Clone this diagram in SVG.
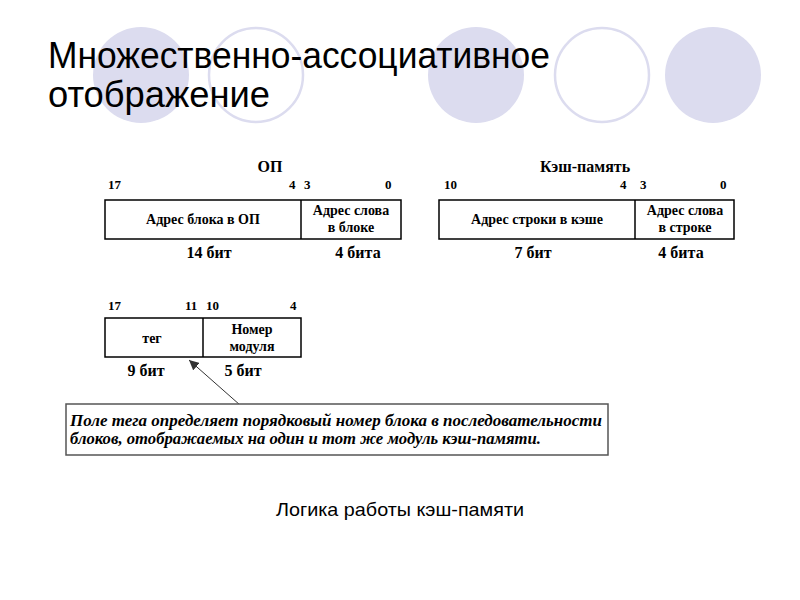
<svg xmlns="http://www.w3.org/2000/svg" width="800" height="600" viewBox="0 0 800 600">
<style>
.cf{fill:#dcdcef;stroke:none}
.co{fill:#fff;stroke:#dcdcef;stroke-width:2.5}
.t{font-family:"Liberation Serif",serif;font-weight:bold;fill:#000}
.box{fill:#fff;stroke:#000;stroke-width:1.5}
</style>
<defs>
<marker id="ah" viewBox="0 0 10 10" refX="10" refY="5" markerWidth="10" markerHeight="10" orient="auto" markerUnits="userSpaceOnUse">
<path d="M0,0 L10,5 L0,10 Z" fill="#333"/>
</marker>
</defs>
<rect width="800" height="600" fill="#fff"/>
<g id="decor">
<ellipse class="cf" cx="141" cy="75" rx="48" ry="48"/>
<ellipse class="co" cx="256" cy="75" rx="47" ry="47"/>
<ellipse class="cf" cx="476" cy="75" rx="48" ry="48"/>
<ellipse class="co" cx="602" cy="75" rx="47" ry="47"/>
<ellipse class="cf" cx="713" cy="75" rx="48" ry="48"/>
</g>
<g id="title" font-family="Liberation Sans, Arial, sans-serif" font-size="36" fill="#000">
<text x="48" y="68" textLength="502" lengthAdjust="spacingAndGlyphs">Множественно-ассоциативное</text>
<text x="48" y="107" textLength="222" lengthAdjust="spacingAndGlyphs">отображение</text>
</g>
<g id="op">
<text class="t" x="270" y="172" font-size="16" text-anchor="middle">ОП</text>
<text class="t" x="108" y="189" font-size="13">17</text>
<text class="t" x="289" y="189" font-size="13">4</text>
<text class="t" x="304" y="189" font-size="13">3</text>
<text class="t" x="385" y="189" font-size="13">0</text>
<rect class="box" x="105" y="200" width="296" height="39"/>
<line x1="301" y1="200" x2="301" y2="239" stroke="#000" stroke-width="1.5"/>
<text class="t" x="203" y="224" font-size="14" text-anchor="middle">Адрес блока в ОП</text>
<text class="t" x="351" y="215" font-size="14" text-anchor="middle">Адрес слова</text>
<text class="t" x="351" y="232" font-size="14" text-anchor="middle">в блоке</text>
<text class="t" x="209" y="258" font-size="16" text-anchor="middle">14 бит</text>
<text class="t" x="358" y="258" font-size="16" text-anchor="middle">4 бита</text>
</g>
<g id="cache">
<text class="t" x="585" y="172" font-size="16" text-anchor="middle">Кэш-память</text>
<text class="t" x="444" y="189" font-size="13">10</text>
<text class="t" x="620" y="189" font-size="13">4</text>
<text class="t" x="640" y="189" font-size="13">3</text>
<text class="t" x="720" y="189" font-size="13">0</text>
<rect class="box" x="439" y="200" width="295" height="39"/>
<line x1="635" y1="200" x2="635" y2="239" stroke="#000" stroke-width="1.5"/>
<text class="t" x="537" y="224" font-size="14" text-anchor="middle">Адрес строки в кэше</text>
<text class="t" x="685" y="215" font-size="14" text-anchor="middle">Адрес слова</text>
<text class="t" x="685" y="232" font-size="14" text-anchor="middle">в строке</text>
<text class="t" x="533" y="258" font-size="16" text-anchor="middle">7 бит</text>
<text class="t" x="681" y="258" font-size="16" text-anchor="middle">4 бита</text>
</g>
<g id="tag">
<text class="t" x="108" y="310" font-size="13">17</text>
<text class="t" x="185" y="310" font-size="13">11</text>
<text class="t" x="206" y="310" font-size="13">10</text>
<text class="t" x="290" y="310" font-size="13">4</text>
<rect class="box" x="105" y="318" width="196" height="39"/>
<line x1="203" y1="318" x2="203" y2="357" stroke="#000" stroke-width="1.5"/>
<text class="t" x="152" y="343" font-size="14" text-anchor="middle">тег</text>
<text class="t" x="252" y="334" font-size="14" text-anchor="middle">Номер</text>
<text class="t" x="252" y="351" font-size="14" text-anchor="middle">модуля</text>
<text class="t" x="146" y="376" font-size="16" text-anchor="middle">9 бит</text>
<text class="t" x="243" y="376" font-size="16" text-anchor="middle">5 бит</text>
</g>
<g id="connectors">
<line x1="240" y1="405" x2="189" y2="360" stroke="#333" stroke-width="1" marker-end="url(#ah)"/>
</g>
<g id="note">
<rect x="66" y="404" width="542" height="51" fill="#fff" stroke="#555" stroke-width="1.5"/>
<text class="t" x="70" y="426" font-size="16.5" font-style="italic" textLength="532" lengthAdjust="spacingAndGlyphs">Поле тега определяет  порядковый номер блока в последовательности</text>
<text class="t" x="70" y="444" font-size="16.5" font-style="italic" textLength="471" lengthAdjust="spacingAndGlyphs">блоков, отображаемых на один и тот же модуль кэш-памяти.</text>
</g>
<text x="400" y="516" font-family="Liberation Sans, Arial, sans-serif" font-size="19" text-anchor="middle" fill="#000" textLength="248" lengthAdjust="spacingAndGlyphs">Логика  работы кэш-памяти</text>
</svg>
